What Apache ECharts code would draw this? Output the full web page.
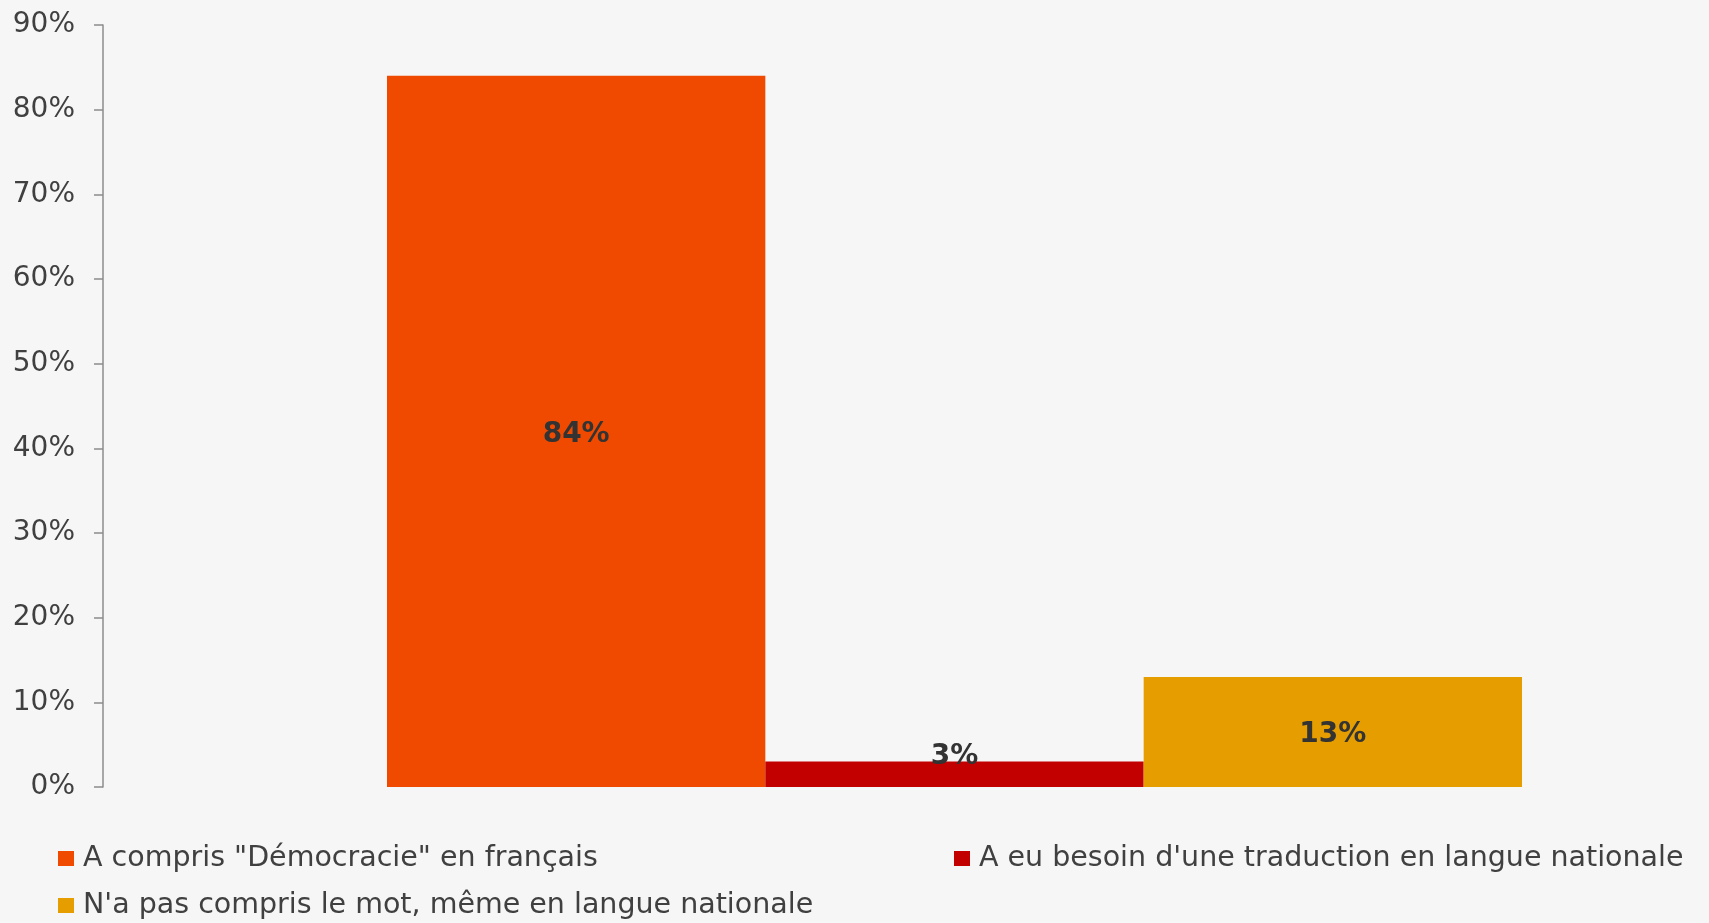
<!DOCTYPE html>
<html>
<head>
<meta charset="utf-8">
<script src="https://cdn.jsdelivr.net/npm/echarts@6/dist/echarts.min.js"></script>
<style>
html,body{margin:0;padding:0;background:#f6f6f6;}
#chart{width:1709px;height:923px;}
</style>
</head>
<body>
<div id="chart"></div>
<script>
const categories = [''];
const seriesNames = ["A compris \"Démocracie\" en français", "A eu besoin d'une traduction en langue nationale", "N'a pas compris le mot, même en langue nationale"];
const values = [84, 3, 13];
const colors = ['#ef4a00', '#c20000', '#e69d00'];
const yTicks = [0, 10, 20, 30, 40, 50, 60, 70, 80, 90];

const FONT = 'DejaVu Sans';
const chart = echarts.init(document.getElementById('chart'));
const labelPos = ['inside', 'top', 'inside'];
const series = seriesNames.map((n, i) => ({
  name: n,
  type: 'bar',
  data: [values[i]],
  barGap: '0%',
  barCategoryGap: '0%',
  itemStyle: { color: colors[i] },
  label: {
    show: true,
    position: labelPos[i],
    distance: i === 1 ? -9 : 5,
    offset: i === 1 ? [0, 0] : [0, 3],
    formatter: '{c}%',
    fontFamily: FONT,
    fontWeight: 'bold',
    fontSize: 28,
    color: '#333333'
  }
}));
const legendPos = [{left: 58, top: 844}, {left: 954, top: 844}, {left: 58, top: 891}];
chart.setOption({
  backgroundColor: '#f6f6f6',
  animation: false,
  grid: { left: 387, right: 187, top: 25, bottom: 136 },
  xAxis: { type: 'category', data: categories, show: false },
  yAxis: {
    type: 'value', min: yTicks[0], max: yTicks[yTicks.length - 1], interval: 10,
    offset: 284,
    axisLine: { show: true, lineStyle: { color: '#8c8c8c', width: 1.5 } },
    axisTick: { show: true, length: 9, lineStyle: { color: '#8c8c8c', width: 1.5 } },
    splitLine: { show: false },
    axisLabel: { formatter: '{value}%', fontFamily: FONT, fontSize: 28, color: '#404040', margin: 28 }
  },
  legend: seriesNames.map((n, i) => ({
    data: [n], left: legendPos[i].left, top: legendPos[i].top, orient: 'horizontal',
    icon: 'rect', itemWidth: 16, itemHeight: 15, itemGap: 0, padding: 0,
    textStyle: { fontFamily: FONT, fontSize: 28.5, color: '#404040', padding: [0, 0, 0, 4] }
  })),
  series: series
});
</script>
</body>
</html>
